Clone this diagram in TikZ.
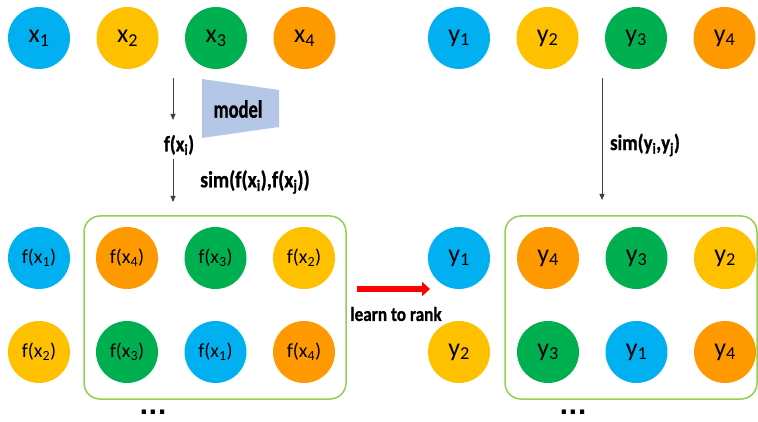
\documentclass[tikz,border=0pt]{standalone}
\usepackage{fontspec}
\setmainfont{Carlito}
\newfontfamily\condfont[FakeStretch=0.86, FakeBold=0.8]{Carlito}
\newfontfamily\narrowfont[FakeStretch=0.74, FakeBold=0.8]{Carlito}
\newfontfamily\dotfont{DejaVu Sans}
\usetikzlibrary{arrows.meta}

\definecolor{cblue}{HTML}{00B0F0}
\definecolor{cyellow}{HTML}{FFC000}
\definecolor{cgreen}{HTML}{00B050}
\definecolor{corange}{HTML}{FF9900}
\definecolor{cmodel}{RGB}{180,199,231}
\definecolor{cframe}{HTML}{92D050}

\begin{document}
\begin{tikzpicture}[x=1pt, y=1pt, node distance=88.5pt,
    ball/.style = {circle, minimum size=62pt, inner sep=0pt, font=\fontsize{26}{26}\selectfont},
    fball/.style = {ball, font=\fontsize{20}{20}\selectfont},
    txt/.style = {inner sep=0pt, font=\condfont\bfseries\fontsize{22}{22}\selectfont},
    dots/.style = {inner sep=0pt, anchor=base, font=\dotfont\bfseries\fontsize{24}{24}\selectfont},
    frame/.style = {draw=cframe, line width=1.5pt, rounded corners=16pt},
    arr/.style = {draw=black!75, line width=0.9pt, -{Triangle[width=5pt,length=6pt]}},
    redarr/.style = {draw=red, line width=6.5pt, -{Triangle[width=14pt,length=8pt]}}]
        \useasboundingbox (0,0) rectangle (758,421);
        \clip (0,0) rectangle (758,421);

        % inputs
        \node[ball, fill=cblue] (x1) at (39,383) {x\textsubscript{1}};
        \node[ball, fill=cyellow] (x2) [right of=x1] {x\textsubscript{2}};
        \node[ball, fill=cgreen] (x3) [right of=x2] {x\textsubscript{3}};
        \node[ball, fill=corange] (x4) [right of=x3] {x\textsubscript{4}};

        % labels
        \node[ball, fill=cblue] (y1) at (459,383) {y\textsubscript{1}};
        \node[ball, fill=cyellow] (y2) [right of=y1] {y\textsubscript{2}};
        \node[ball, fill=cgreen] (y3) [right of=y2] {y\textsubscript{3}};
        \node[ball, fill=corange] (y4) [right of=y3] {y\textsubscript{4}};

        % model
        \fill[cmodel] (202,342) -- (279,331) -- (279,294) -- (202,283) -- cycle;
        \node[txt, font=\narrowfont\bfseries\fontsize{25}{25}\selectfont] (model) at (238,312) {model};
        \coordinate (a1s) at (173,343);
        \coordinate (a1e) at (173,301);
        \node[txt] (fxi) at (179,276) {f(x\textsubscript{i})};
        \coordinate (a2s) at (173,262);
        \coordinate (a2e) at (173,219);
        \node[txt, font=\condfont\bfseries\fontsize{23}{23}\selectfont] (simf) at (255,239) {sim(f(x\textsubscript{i}),f(x\textsubscript{j}))};
        \draw[arr] (a1s) -- (a1e);
        \draw[arr] (a2s) -- (a2e);

        \coordinate (b1s) at (602,343);
        \coordinate (b1e) at (602,221);
        \node[txt] (simy) at (645,276) {sim(y\textsubscript{i},y\textsubscript{j})};
        \draw[arr] (b1s) -- (b1e);

        % features
        \node[frame, minimum width=262pt, minimum height=183pt] (lframe) at (215,113.5) {};
        \node[fball, fill=cblue] (fx1) at (39,163) {f(x\textsubscript{1})};
        \node[fball, fill=cyellow] (fx2) [below of=fx1, node distance=94pt] {f(x\textsubscript{2})};
        \node[fball, fill=corange] (p1) at (127,163) {f(x\textsubscript{4})};
        \node[fball, fill=cgreen] (p2) [right of=p1] {f(x\textsubscript{3})};
        \node[fball, fill=cyellow] (p3) [right of=p2] {f(x\textsubscript{2})};
        \node[fball, fill=cgreen] (p4) [below of=p1, node distance=94pt] {f(x\textsubscript{3})};
        \node[fball, fill=cblue] (p5) [right of=p4] {f(x\textsubscript{1})};
        \node[fball, fill=corange] (p6) [right of=p5] {f(x\textsubscript{4})};
        \node[dots] (ldots) at (153,7) {...};

        % ranking
        \coordinate (r1) at (357,132);
        \coordinate (r2) at (430,132);
        \draw[redarr] (r1) -- (r2);
        \node[txt, font=\condfont\bfseries\fontsize{20}{20}\selectfont] (ltr) at (396,107) {learn to rank};

        \node[frame, minimum width=252pt, minimum height=183pt] (rframe) at (631,113.5) {};
        \node[ball, fill=cblue] (ry1) at (459,163) {y\textsubscript{1}};
        \node[ball, fill=cyellow] (ry2) [below of=ry1, node distance=94pt] {y\textsubscript{2}};
        \node[ball, fill=corange] (q1) at (548,163) {y\textsubscript{4}};
        \node[ball, fill=cgreen] (q2) [right of=q1] {y\textsubscript{3}};
        \node[ball, fill=cyellow] (q3) [right of=q2] {y\textsubscript{2}};
        \node[ball, fill=cgreen] (q4) [below of=q1, node distance=94pt] {y\textsubscript{3}};
        \node[ball, fill=cblue] (q5) [right of=q4] {y\textsubscript{1}};
        \node[ball, fill=corange] (q6) [right of=q5] {y\textsubscript{4}};
        \node[dots] (rdots) at (573,7) {...};
    \end{tikzpicture}
\end{document}
